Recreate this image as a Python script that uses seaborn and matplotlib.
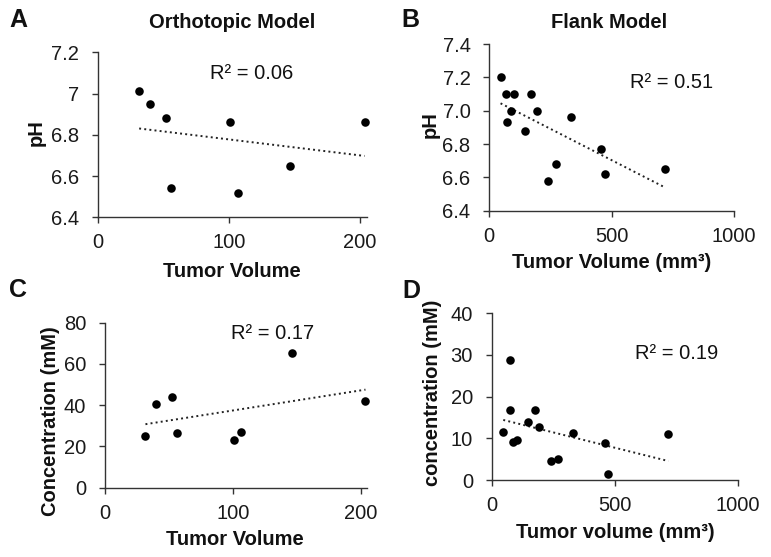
import matplotlib
matplotlib.use('Agg')
import matplotlib.pyplot as plt
import seaborn as sns
from matplotlib.ticker import FuncFormatter

sns.set_style('ticks')
plt.rcParams['font.family'] = ['Liberation Sans', 'DejaVu Sans']

# orthotopic model (panels A and C share tumor volume)
ortho_vol = [31.6, 40.0, 52.2, 56.0, 101.0, 106.6, 146.3, 203.5]
ortho_ph = [7.01, 6.95, 6.88, 6.54, 6.86, 6.52, 6.65, 6.86]
ortho_conc = [25.2, 40.6, 44.0, 26.7, 22.9, 27.0, 65.1, 42.0]

# flank model
flank_vol_ph = [46, 67, 71, 87, 101, 146, 170, 193, 238, 271, 332, 458, 474, 718]
flank_ph = [7.20, 7.10, 6.93, 7.00, 7.10, 6.88, 7.10, 7.00, 6.58, 6.68, 6.96, 6.77, 6.62, 6.65]
flank_vol_conc = [47, 73, 75, 88, 104, 147, 174, 193, 240, 268, 332, 459, 474, 718]
flank_conc = [11.5, 28.9, 16.9, 9.1, 9.7, 13.8, 16.9, 12.7, 4.6, 5.0, 11.2, 8.9, 1.4, 11.0]

r2_labels = ['R\u00b2 = 0.06', 'R\u00b2 = 0.51', 'R\u00b2 = 0.17', 'R\u00b2 = 0.19']

W, H = 771, 557
fig = plt.figure(figsize=(W / 100, H / 100), dpi=100)


def rect(l, t, r, b):
    return [l / W, 1 - b / H, (r - l) / W, (b - t) / H]


def px(x, y):
    return x / W, 1 - y / H


def panel(box, x, y, xlim, ylim, xticks, yticks, fmt):
    ax = fig.add_axes(rect(*box))
    sns.regplot(x=x, y=y, ax=ax, ci=None,
                scatter_kws=dict(s=38, color='black', alpha=1, linewidths=0, clip_on=False, zorder=3),
                line_kws=dict(color='#222222', linestyle=':', linewidth=1.4))
    ax.set_xlim(*xlim)
    ax.set_ylim(*ylim)
    ax.set_xticks(xticks)
    ax.set_yticks(yticks)
    ax.yaxis.set_major_formatter(FuncFormatter(fmt))
    sns.despine(ax=ax)
    for s in ['left', 'bottom']:
        ax.spines[s].set_linewidth(1.0)
        ax.spines[s].set_color('#333333')
    ax.tick_params(direction='out', length=4.5, width=1, color='#333333',
                   labelsize=14.5, labelcolor='#1a1a1a', pad=7)
    ax.tick_params(axis='y', pad=9)
    ax.set_xlabel('')
    ax.set_ylabel('')
    return ax


panel((97.7, 52.3, 366.6, 217.3), ortho_vol, ortho_ph, (0, 205), (6.4, 7.2),
      [0, 100, 200], [6.4, 6.6, 6.8, 7.0, 7.2], lambda v, p: f'{v:g}')
panel((489.3, 44, 734, 210.7), flank_vol_ph, flank_ph, (0, 1000), (6.4, 7.4),
      [0, 500, 1000], [6.4, 6.6, 6.8, 7.0, 7.2, 7.4], lambda v, p: f'{v:.1f}')
panel((105, 322.7, 367.4, 487.7), ortho_vol, ortho_conc, (0, 205), (0, 80),
      [0, 100, 200], [0, 20, 40, 60, 80], lambda v, p: f'{v:g}')
panel((491.7, 313.3, 737.7, 480), flank_vol_conc, flank_conc, (0, 1000), (0, 40),
      [0, 500, 1000], [0, 10, 20, 30, 40], lambda v, p: f'{v:g}')

bold = dict(fontsize=14.5, fontweight='bold', color='#111111')

# titles
fig.text(*px(231.7, 28.3), 'Orthotopic Model', ha='center', va='baseline', **bold)
fig.text(*px(609, 28.3), 'Flank Model', ha='center', va='baseline', **bold)

# panel letters
for (lx, ly), letter in zip([(9, 26.7), (401, 26.7), (9, 296.7), (402, 298.3)], 'ABCD'):
    fig.text(*px(lx, ly), letter, ha='left', va='baseline', fontsize=18, fontweight='bold', color='#111111')

# axis labels
fig.text(*px(231.7, 276.7), 'Tumor Volume', ha='center', va='baseline', **bold)
fig.text(*px(611.7, 268.3), 'Tumor Volume (mm\u00b3)', ha='center', va='baseline', **bold)
fig.text(*px(235, 545), 'Tumor Volume', ha='center', va='baseline', **bold)
fig.text(*px(615, 538), 'Tumor volume (mm\u00b3)', ha='center', va='baseline', **bold)

fig.text(*px(36.7, 132.5), 'pH', ha='center', va='center', rotation=90, **bold)
fig.text(*px(430, 125), 'pH', ha='center', va='center', rotation=90, **bold)
fig.text(*px(50, 421), 'Concentration (mM)', ha='center', va='center', rotation=90, **bold)
fig.text(*px(433, 393), 'concentration (mM)', ha='center', va='center', rotation=90, **bold)

# R squared annotations
for (tx, ty), lab in zip([(251.7, 73.3), (671.7, 82.3), (272.7, 333.3), (676.7, 353.3)], r2_labels):
    fig.text(*px(tx, ty), lab, ha='center', va='center', fontsize=14.5, color='#111111')

fig.savefig('out.png', dpi=100, facecolor='white')
